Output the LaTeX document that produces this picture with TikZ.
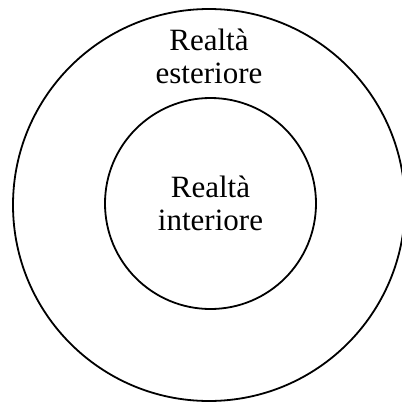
\documentclass[tikz,border=0pt]{standalone}
\usepackage{fontspec}
\setmainfont{Liberation Serif}
\usepackage{tikz}
\usetikzlibrary{positioning}
\tikzset{
  ring/.style={circle, draw, line width=0.9pt, inner sep=0pt},
  lab/.style={align=center, font=\fontsize{15.5}{16.5}\selectfont},
}

\begin{document}
\begin{tikzpicture}[x=0.5pt, y=-0.5pt]
  \useasboundingbox (0,0) rectangle (402,403);
  % two nested circles
  \node[ring, minimum size=196pt] (outer) at (209,205) {};
  \node[ring, minimum size=105.5pt] (inner) at (210.5,203.5) {};
  % labels
  \node[lab] (ext) at (209,56) {Realtà\\esteriore};
  \node[lab] (int) at (inner.center) {Realtà\\interiore};
\end{tikzpicture}
\end{document}
